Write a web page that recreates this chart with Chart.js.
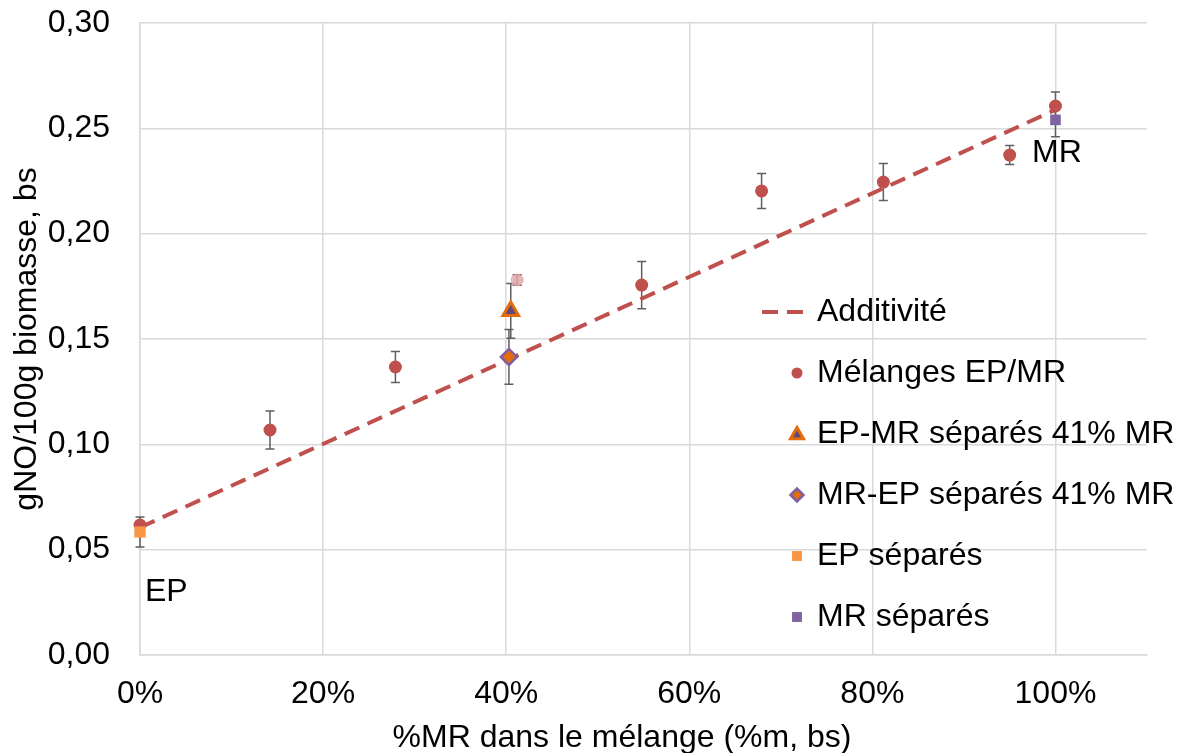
<!DOCTYPE html>
<html>
<head>
<meta charset="utf-8">
<script src="https://cdn.jsdelivr.net/npm/chart.js@4/dist/chart.umd.min.js"></script>
<style>
html,body{margin:0;padding:0;background:#fff;}
canvas{display:block;}
</style>
</head>
<body>
<canvas id="c" width="1192" height="753"></canvas>
<script>
// ---- Data ----
const additiviteX = [0, 1.0];
const additiviteY = [0.0605, 0.2588];

const melangesX   = [0, 0.142, 0.279, 0.548, 0.679, 0.812, 0.950, 1.0];
const melangesY   = [0.0617, 0.1068, 0.1367, 0.1756, 0.2203, 0.2245, 0.2373, 0.2606];
const melangesErr = [0, 0.0090, 0.0074, 0.0112, 0.0083, 0.0088, 0.0045, 0.0066];

const melange41X   = [0.412];
const melange41Y   = [0.178];
const melange41Err = [0.0025];

const epmrX   = [0.405];
const epmrY   = [0.1633];
const epmrErr = [0.013];

const mrepX   = [0.403];
const mrepY   = [0.1415];
const mrepErr = [0.013];

const epSepX   = [0];
const epSepY   = [0.0584];
const epSepErr = [0.0071];

const mrSepX   = [1.0];
const mrSepY   = [0.254];
const mrSepErr = [0.008];

const yTicks = [0, 0.05, 0.10, 0.15, 0.20, 0.25, 0.30];
const xTicks = [0, 0.2, 0.4, 0.6, 0.8, 1.0];

const labels = {
  add: 'Additivité',
  mel: 'Mélanges EP/MR',
  epmr: 'EP-MR séparés 41% MR',
  mrep: 'MR-EP séparés 41% MR',
  ep: 'EP séparés',
  mr: 'MR séparés'
};
const xTitle = '%MR dans le mélange (%m, bs)';
const yTitle = 'gNO/100g biomasse, bs';

const FONT = '"Liberation Sans", Arial, sans-serif';

function pts(xs, ys) { return xs.map((x, i) => ({x: x, y: ys[i]})); }

const datasets = [
  { label: labels.add, data: pts(additiviteX, additiviteY), showLine: true, borderColor: '#c0504d',
    borderWidth: 4, borderDash: [16, 9], pointRadius: 0, fill: false, order: 7, _legend: 'line', clip: false },
  { label: labels.mel, data: pts(melangesX, melangesY), _err: melangesErr, pointStyle: 'circle', pointRadius: 6.5,
    backgroundColor: '#c0504d', borderColor: '#c0504d', borderWidth: 0, showLine: false, order: 6, _lr: 5.5, clip: false },
  { label: '', data: pts(melange41X, melange41Y), _err: melange41Err, pointStyle: 'circle', pointRadius: 6.5,
    backgroundColor: 'rgba(225,170,170,0.85)', borderColor: 'rgba(225,170,170,0.85)', borderWidth: 0, showLine: false, order: 5, _errColor: '#6a3a3a', _hideLegend: true, clip: false },
  { label: labels.epmr, data: pts(epmrX, epmrY), _err: epmrErr, pointStyle: 'triangle', pointRadius: 9,
    backgroundColor: '#604a7b', borderColor: '#e46c0a', borderWidth: 3, showLine: false, order: 4, _lr: 7.5, clip: false },
  { label: labels.mrep, data: pts(mrepX, mrepY), _err: mrepErr, pointStyle: 'rectRot', pointRadius: 8,
    backgroundColor: '#e46c0a', borderColor: '#7f5fa0', borderWidth: 2.5, showLine: false, order: 3, _lr: 6.5, clip: false },
  { label: labels.ep, data: pts(epSepX, epSepY), _err: epSepErr, pointStyle: 'rect', pointRadius: 8,
    backgroundColor: '#f79646', borderColor: '#f79646', borderWidth: 0, showLine: false, order: 2, _lr: 7, clip: false },
  { label: labels.mr, data: pts(mrSepX, mrSepY), _err: mrSepErr, pointStyle: 'rect', pointRadius: 7.5,
    backgroundColor: '#8064a2', borderColor: '#8064a2', borderWidth: 0, showLine: false, order: 1, _lr: 7, clip: false }
];

const errorBars = {
  id: 'errorBars',
  beforeDatasetsDraw(chart) {
    const ctx = chart.ctx, xs = chart.scales.x, ys = chart.scales.y;
    ctx.save();
    chart.data.datasets.forEach(ds => {
      if (!ds._err) return;
      ctx.strokeStyle = ds._errColor || '#5f5f5f';
      ctx.lineWidth = 1.5;
      ds.data.forEach((p, i) => {
        const e = ds._err[i];
        if (!e) return;
        const px = xs.getPixelForValue(p.x);
        const y1 = ys.getPixelForValue(p.y + e), y2 = ys.getPixelForValue(p.y - e);
        ctx.beginPath();
        ctx.moveTo(px, y1); ctx.lineTo(px, y2);
        ctx.moveTo(px - 4.5, y1); ctx.lineTo(px + 4.5, y1);
        ctx.moveTo(px - 4.5, y2); ctx.lineTo(px + 4.5, y2);
        ctx.stroke();
      });
    });
    ctx.restore();
  }
};

const decorations = {
  id: 'decorations',
  afterDraw(chart) {
    const ctx = chart.ctx, a = chart.chartArea;
    ctx.save();
    ctx.fillStyle = '#000';
    ctx.font = '32px ' + FONT;
    ctx.textBaseline = 'middle';
    // axis titles
    ctx.textAlign = 'center';
    ctx.fillText(xTitle, 622, 738);
    ctx.save();
    ctx.translate(27, (a.top + a.bottom) / 2);
    ctx.rotate(-Math.PI / 2);
    ctx.fillText(yTitle, 0, 0);
    ctx.restore();
    // annotations
    ctx.textAlign = 'left';
    ctx.fillText('EP', a.left + 5, 592);
    ctx.fillText('MR', 1032, 153);
    // legend
    const items = chart.data.datasets.filter(d => !d._hideLegend);
    const lx = 797, tx = 817;
    items.forEach((ds, i) => {
      const y = 312 + i * 61;
      if (ds._legend === 'line') {
        ctx.save();
        ctx.strokeStyle = ds.borderColor; ctx.lineWidth = 4;
        ctx.setLineDash([16, 9]);
        ctx.beginPath(); ctx.moveTo(762, y); ctx.lineTo(804, y); ctx.stroke();
        ctx.restore();
      } else {
        ctx.save();
        ctx.fillStyle = ds.backgroundColor; ctx.strokeStyle = ds.borderColor; ctx.lineWidth = ds.borderWidth;
        Chart.helpers.drawPoint(ctx, {pointStyle: ds.pointStyle, rotation: 0, radius: ds._lr, borderWidth: ds.borderWidth},
          lx, y + (ds.pointStyle === 'triangle' ? 1 : 0));
        ctx.restore();
      }
      ctx.fillStyle = '#000';
      ctx.textAlign = 'left';
      ctx.fillText(ds.label, tx, y);
    });
    ctx.restore();
  }
};

new Chart(document.getElementById('c'), {
  type: 'scatter',
  data: { datasets: datasets },
  options: {
    responsive: false,
    animation: false,
    layout: { padding: { top: 23, right: 45, left: 0, bottom: 0 } },
    plugins: { legend: { display: false }, tooltip: { enabled: false } },
    scales: {
      x: {
        type: 'linear', min: 0, max: 1.1,
        afterFit(s) { s.height = 98; s.paddingLeft = 0; s.paddingRight = 0; },
        afterBuildTicks(s) { s.ticks = xTicks.map(v => ({value: v})); },
        grid: { color: '#d9d9d9', lineWidth: 1.5, drawTicks: false },
        border: { color: '#d9d9d9', width: 1.5 },
        ticks: { padding: 20, color: '#000', font: { family: FONT, size: 32 },
          callback: v => Math.round(v * 100) + '%' }
      },
      y: {
        type: 'linear', min: 0, max: 0.3,
        afterFit(s) { s.width = 140; s.paddingTop = 0; s.paddingBottom = 0; },
        afterBuildTicks(s) { s.ticks = yTicks.map(v => ({value: v})); },
        grid: { color: '#d9d9d9', lineWidth: 1.5, drawTicks: false },
        border: { color: '#d9d9d9', width: 1.5 },
        ticks: { padding: 30, color: '#000', font: { family: FONT, size: 32 },
          callback: v => v.toFixed(2).replace('.', ',') }
      }
    }
  },
  plugins: [errorBars, decorations]
});
</script>
</body>
</html>
